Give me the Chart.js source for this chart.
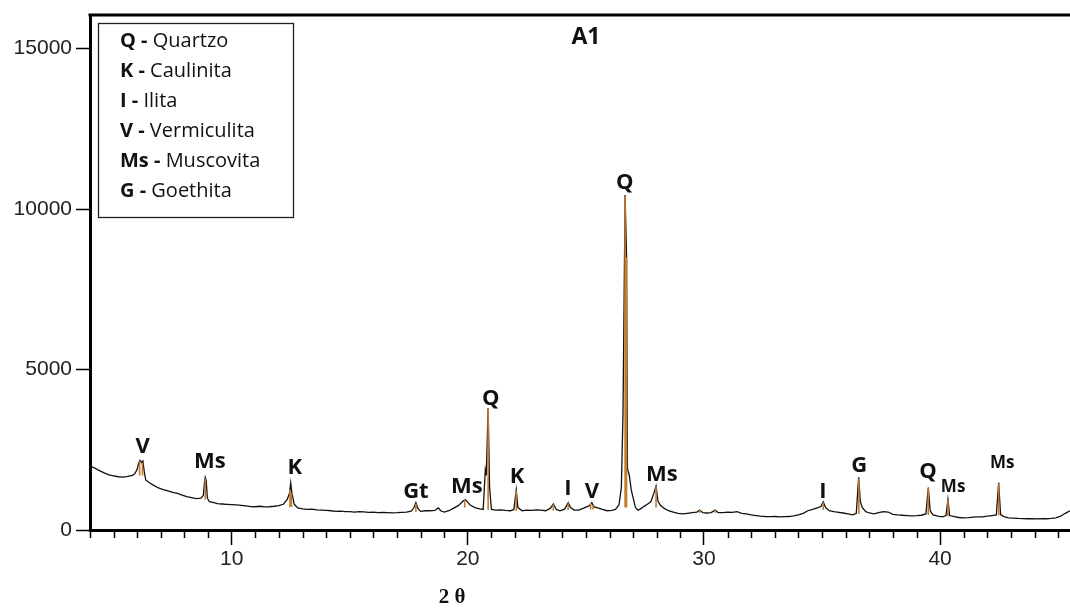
<!DOCTYPE html>
<html><head><meta charset="utf-8">
<script src="https://cdn.jsdelivr.net/npm/chart.js@4.4.0/dist/chart.umd.min.js"></script>
<style>html,body{margin:0;padding:0;background:#fff}canvas{display:block}</style>
</head><body>
<canvas id="c" width="1070" height="613"></canvas>
<script>
// ---- data ----
const twoTheta = [
4.0,4.2,4.4,4.6,4.8,5.0,5.2,5.4,5.6,5.8,5.9,6.0,6.06,6.12,6.18,6.24,6.3,6.36,6.5,6.7,6.9,7.1,7.3,7.5,7.7,7.9,8.1,8.3,8.5,8.7,8.8,8.85,8.88,8.92,8.97,9.05,9.2,9.4,9.6,9.8,
10.0,10.2,10.4,10.6,10.8,11.0,11.2,11.4,11.6,11.8,12.0,12.2,12.35,12.45,12.5,12.55,12.65,12.8,13.0,13.2,13.4,13.6,13.8,14.0,14.2,14.4,14.6,14.8,15.0,15.2,15.4,15.6,15.8,16.0,16.2,16.4,16.6,16.8,17.0,17.2,17.4,17.6,17.72,17.8,17.88,18.0,18.2,18.4,18.6,18.75,18.85,19.0,19.2,19.4,19.6,19.8,19.9,20.0,20.1,20.3,20.5,20.65,
20.74,20.78,20.86,20.92,21.0,21.2,21.4,21.6,21.8,21.95,22.05,22.12,22.3,22.5,22.7,22.9,23.1,23.3,23.5,23.62,23.75,23.9,24.1,24.25,24.35,24.5,24.7,24.9,25.05,25.15,25.25,25.35,25.5,25.7,25.9,26.1,26.25,26.4,26.5,26.57,26.66,26.72,26.76,26.84,26.92,27.0,27.1,27.2,27.3,27.45,27.6,27.75,27.88,27.97,28.05,28.15,28.3,28.5,28.7,28.9,29.1,29.3,29.5,29.7,29.82,29.95,
30.1,30.3,30.48,30.6,30.8,31.0,31.2,31.4,31.6,31.8,32.0,32.2,32.4,32.6,32.8,33.0,33.2,33.4,33.6,33.8,34.0,34.2,34.4,34.6,34.8,34.95,35.05,35.15,35.3,35.5,35.7,35.9,36.1,36.3,36.45,36.55,36.62,36.7,36.85,37.0,37.2,37.4,37.6,37.8,38.0,38.2,38.4,38.6,38.8,39.0,39.2,39.4,39.5,39.58,39.7,39.9,
40.1,40.25,40.33,40.4,40.6,40.8,41.0,41.2,41.4,41.6,41.8,42.0,42.2,42.38,42.48,42.56,42.7,42.9,43.1,43.3,43.5,43.7,43.9,44.1,44.3,44.5,44.7,44.9,45.1,45.3,45.5
];
const intensity = [
2000,1930,1850,1780,1720,1690,1660,1650,1670,1700,1760,1900,2080,2170,2100,2150,1800,1560,1480,1390,1310,1260,1220,1170,1140,1090,1040,1010,980,990,1080,1500,1640,1550,1000,880,860,820,810,800,
790,780,770,750,730,725,740,720,725,740,760,810,950,1150,1470,1150,800,690,660,640,650,630,620,610,600,580,590,570,575,560,570,565,550,560,540,545,540,535,540,550,560,590,700,850,680,580,600,600,610,690,600,560,600,680,760,900,950,860,780,700,660,640,
1870,1700,3800,1350,640,620,630,610,600,640,1250,700,600,620,610,630,620,600,680,810,640,600,650,850,700,620,620,680,730,760,850,720,690,640,600,610,640,780,1310,3580,10440,8570,1900,1700,1250,1000,700,620,650,730,800,880,1150,1370,900,780,680,600,560,520,500,520,540,560,620,540,
530,540,620,540,540,560,550,570,520,500,470,450,430,420,415,420,410,415,420,440,470,520,600,640,690,730,880,700,600,570,550,530,500,470,520,1640,900,700,570,530,500,540,570,560,490,470,460,450,440,445,460,500,1320,600,470,430,
410,450,950,450,420,390,380,385,400,410,410,430,450,470,1475,480,420,380,370,360,355,350,350,345,350,350,360,380,430,520,600
];
// reference-pattern sticks
const stickX  = [6.1, 6.22, 8.88, 12.47, 12.53, 17.8, 19.87, 20.86, 22.05, 23.62, 24.25, 25.2, 25.3, 26.66, 26.72, 27.97, 29.82, 30.48, 35.05, 36.56, 39.5, 40.33, 42.48];
const stickLo = [1700, 1700, 950, 720, 720, 560, 700, 620, 600, 600, 620, 640, 640, 700, 700, 700, 540, 540, 620, 500, 470, 430, 450];
const stickHi = [2150, 2100, 1600, 1250, 1150, 820, 950, 3800, 1230, 800, 830, 830, 780, 10400, 8500, 1350, 620, 620, 860, 1600, 1300, 930, 1450];
// peak annotations
const peakLabels = ['V','Ms','K','Gt','Ms','Q','K','I','V','Q','Ms','I','G','Q','Ms','Ms'];
const peakLabelX = [6.23, 9.07, 12.67, 17.8, 19.96, 20.97, 22.08, 24.24, 25.25, 26.65, 28.22, 35.04, 36.57, 39.49, 40.55, 42.63];
const peakLabelY = [2585, 2118, 1931, 1184, 1340, 4080, 1651, 1277, 1184, 10810, 1713, 1184, 1994, 1807, 1340, 2087];
const xTicks = [10, 20, 30, 40];
const yTicks = [0, 5000, 10000, 15000];
const legendCodes = ['Q', 'K', 'I', 'V', 'Ms', 'G'];
const legendNames = ['Quartzo', 'Caulinita', 'Ilita', 'Vermiculita', 'Muscovita', 'Goethita'];
const chartTitle = 'A1';
const xAxisTitle = '2 θ';

// ---- styling helpers ----
const labelFontSize = peakLabels.map((t, i) => (i >= 14 ? 17 : 22));
const stickData = [];
stickX.forEach((x, i) => { stickData.push({x: x, y: stickLo[i]}, {x: x, y: stickHi[i]}, {x: x, y: null}); });
const FONT = '"Open Sans", Lato, sans-serif';

const decor = {
  id: 'decor',
  afterDraw(chart) {
    const ctx = chart.ctx, a = chart.chartArea, xs = chart.scales.x, ys = chart.scales.y;
    ctx.save();
    // top frame line
    ctx.strokeStyle = '#000'; ctx.lineWidth = 3;
    ctx.beginPath(); ctx.moveTo(a.left - 1.5, a.top); ctx.lineTo(a.right, a.top); ctx.stroke();
    // minor ticks
    ctx.lineWidth = 1.5;
    for (let v = Math.ceil(xs.min); v <= Math.floor(xs.max); v++) {
      if (xTicks.includes(v)) continue;
      const px = Math.round(xs.getPixelForValue(v)) + 0.5;
      ctx.beginPath(); ctx.moveTo(px, a.bottom); ctx.lineTo(px, a.bottom + 8); ctx.stroke();
    }
    // peak labels
    ctx.fillStyle = '#111'; ctx.textAlign = 'center'; ctx.textBaseline = 'middle';
    peakLabels.forEach((t, i) => {
      ctx.font = 'bold ' + labelFontSize[i] + 'px ' + FONT;
      ctx.fillText(t, xs.getPixelForValue(peakLabelX[i]), ys.getPixelForValue(peakLabelY[i]));
    });
    // title
    ctx.font = 'bold 23px ' + FONT;
    ctx.fillText(chartTitle, 586, 37);
    // x axis title
    ctx.font = 'bold 21px "Liberation Serif", "DejaVu Serif", serif';
    ctx.fillText(xAxisTitle, 452, 598);
    // legend box
    ctx.fillStyle = '#fff';
    ctx.fillRect(98, 23, 195, 194);
    ctx.strokeStyle = '#222'; ctx.lineWidth = 1.3;
    ctx.strokeRect(98.5, 23.5, 195, 194);
    ctx.textAlign = 'left'; ctx.fillStyle = '#111';
    legendCodes.forEach((c, i) => {
      const y = 41 + 30 * i;
      ctx.font = 'bold 20px ' + FONT;
      const head = c + ' - ';
      ctx.fillText(head, 120, y);
      const w = ctx.measureText(head).width;
      ctx.font = '20px ' + FONT;
      ctx.fillText(legendNames[i], 120 + w, y);
    });
    ctx.restore();
  }
};

new Chart(document.getElementById('c'), {
  type: 'line',
  data: {
    datasets: [
      { data: stickData, borderColor: '#c77a2e', borderWidth: 1.6, pointRadius: 0, spanGaps: false, order: 0 },
      { data: twoTheta.map((x, i) => ({x: x, y: intensity[i]})), borderColor: '#111', borderWidth: 1.3, pointRadius: 0, tension: 0, order: 1 }
    ]
  },
  options: {
    responsive: false, animation: false, events: [],
    layout: { padding: { top: 15, right: 0, left: 0, bottom: 0 } },
    plugins: { legend: { display: false }, tooltip: { enabled: false } },
    scales: {
      x: {
        type: 'linear', min: 4, max: 45.5,
        afterBuildTicks: s => { s.ticks = xTicks.map(v => ({value: v})); },
        afterFit: s => { s.height = 83; s.paddingLeft = 0; s.paddingRight = 0; },
        ticks: { callback: v => String(v), color: '#222', font: { family: '"Liberation Sans", Arial, sans-serif', size: 21 }, padding: 2, maxRotation: 0, autoSkip: false },
        grid: { drawOnChartArea: false, drawTicks: true, tickLength: 15, tickColor: '#000', tickWidth: 1.5 },
        border: { display: true, color: '#000', width: 3 }
      },
      y: {
        type: 'linear', min: 0, max: 16050,
        afterBuildTicks: s => { s.ticks = yTicks.map(v => ({value: v})); },
        afterFit: s => { s.width = 90; s.paddingTop = 0; s.paddingBottom = 0; },
        ticks: { callback: v => String(v), color: '#222', font: { family: '"Liberation Sans", Arial, sans-serif', size: 21 }, padding: 4 },
        grid: { drawOnChartArea: false, drawTicks: true, tickLength: 14, tickColor: '#000', tickWidth: 1.5 },
        border: { display: true, color: '#000', width: 3 }
      }
    }
  },
  plugins: [decor]
});
</script>
</body></html>
